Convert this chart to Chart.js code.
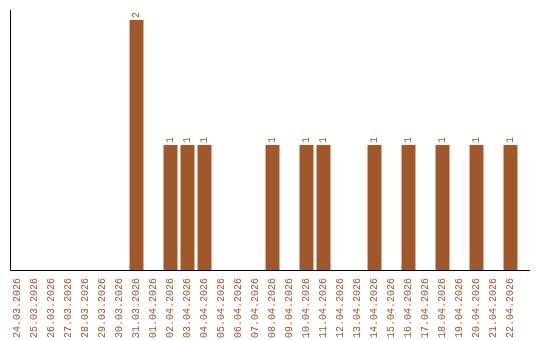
<!DOCTYPE html>
<html>
<head>
<meta charset="utf-8">
<script src="https://cdn.jsdelivr.net/npm/chart.js@4"></script>
<style>
  html, body { margin: 0; padding: 0; background: #fff; }
  #wrap { width: 540px; height: 340px; }
</style>
</head>
<body>
<div id="wrap"><canvas id="chart" width="540" height="340"></canvas></div>
<script>
const days = ['24.03.2026', '25.03.2026', '26.03.2026', '27.03.2026', '28.03.2026', '29.03.2026',
  '30.03.2026', '31.03.2026', '01.04.2026', '02.04.2026', '03.04.2026', '04.04.2026',
  '05.04.2026', '06.04.2026', '07.04.2026', '08.04.2026', '09.04.2026', '10.04.2026',
  '11.04.2026', '12.04.2026', '13.04.2026', '14.04.2026', '15.04.2026', '16.04.2026',
  '17.04.2026', '18.04.2026', '19.04.2026', '20.04.2026', '21.04.2026', '22.04.2026'];
const counts = [0, 0, 0, 0, 0, 0, 0, 2, 0, 1, 1, 1, 0, 0, 0, 1, 0, 1, 1, 0, 0, 1, 0, 1, 0, 1, 0, 1, 0, 1];

const brown = '#a0572a';
const font = { family: '"Liberation Mono", "DejaVu Sans Mono", monospace', size: 10 };

// axis lines + value labels on top of bars
const extras = {
  id: 'extras',
  afterDraw(c) {
    const ctx = c.ctx;
    const a = c.chartArea;
    ctx.save();
    ctx.strokeStyle = '#000';
    ctx.lineWidth = 1;
    ctx.beginPath();
    ctx.moveTo(10.5, a.top);
    ctx.lineTo(10.5, a.bottom + 0.5);
    ctx.lineTo(530, a.bottom + 0.5);
    ctx.stroke();

    ctx.fillStyle = brown;
    ctx.font = font.size + 'px ' + font.family;
    ctx.textAlign = 'left';
    ctx.textBaseline = 'middle';
    c.getDatasetMeta(0).data.forEach((bar, i) => {
      if (!counts[i]) return;
      ctx.save();
      ctx.translate(bar.x, bar.y - 2);
      ctx.rotate(-Math.PI / 2);
      ctx.fillText(String(counts[i]), 0, 0);
      ctx.restore();
    });
    ctx.restore();
  }
};

new Chart(document.getElementById('chart'), {
  type: 'bar',
  data: {
    labels: days,
    datasets: [{
      data: counts,
      backgroundColor: brown,
      barPercentage: 0.82,
      categoryPercentage: 1
    }]
  },
  options: {
    responsive: false,
    animation: false,
    layout: { padding: { left: 9, right: 21, top: 10, bottom: 0 } },
    plugins: { legend: { display: false }, tooltip: { enabled: false } },
    scales: {
      x: {
        grid: { display: false, drawTicks: false },
        border: { display: false },
        ticks: { color: brown, font: font, minRotation: 90, maxRotation: 90, padding: 8, autoSkip: false },
        afterFit(s) { s.height = 70; }
      },
      y: {
        display: false,
        min: 0,
        max: 2.08
      }
    }
  },
  plugins: [extras]
});
</script>
</body>
</html>
